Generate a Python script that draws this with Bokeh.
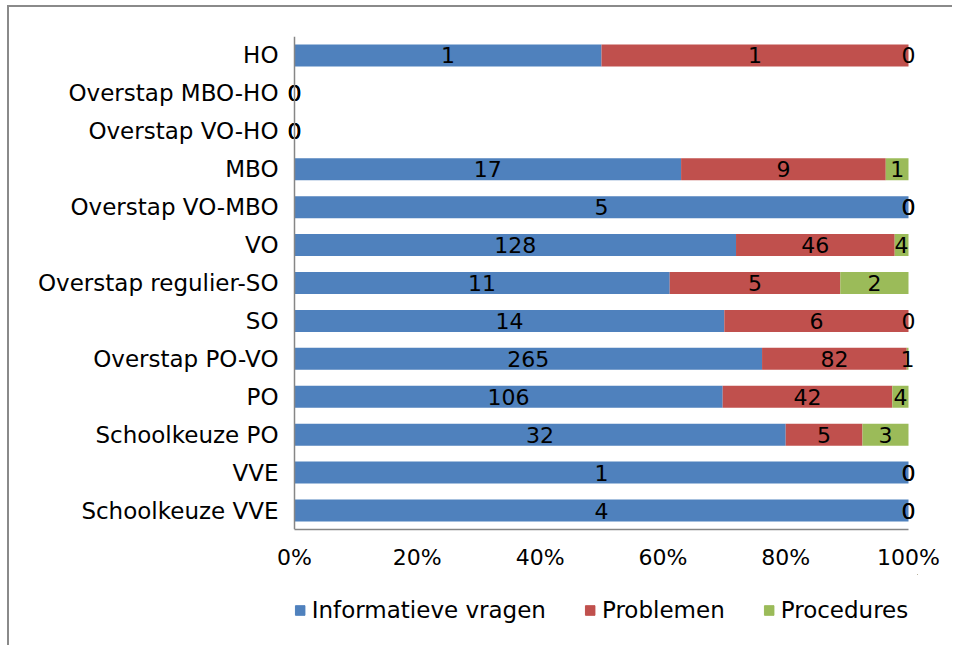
from bokeh.plotting import figure
from bokeh.layouts import column
from bokeh.models import (FactorRange, Range1d, ColumnDataSource, LabelSet, Legend,
                          LegendItem, FixedTicker, NumeralTickFormatter, Span)
from bokeh.core.properties import value
from bokeh.embed import file_html
from bokeh.resources import INLINE

# ---- data (top to bottom as in the chart) ----
categories = ["HO", "Overstap MBO-HO", "Overstap VO-HO", "MBO", "Overstap VO-MBO", "VO",
              "Overstap regulier-SO", "SO", "Overstap PO-VO", "PO", "Schoolkeuze PO",
              "VVE", "Schoolkeuze VVE"]
informatief = [1, 0, 0, 17, 5, 128, 11, 14, 265, 106, 32, 1, 4]
problemen = [1, 0, 0, 9, 0, 46, 5, 6, 82, 42, 5, 0, 0]
procedures = [0, 0, 0, 1, 0, 4, 2, 0, 1, 4, 3, 0, 0]
series_names = ["Informatieve vragen", "Problemen", "Procedures"]
series_colors = ["#4F81BD", "#C0504D", "#9BBB59"]
x_ticks = [0, 0.2, 0.4, 0.6, 0.8, 1.0]

FONT = "DejaVu Sans"
FS_NUM = "22px"
FS_TXT = "23px"

series = [informatief, problemen, procedures]
totals = [sum(v) for v in zip(*series)]
fracs = [[(c / t if t else 0.0) for c, t in zip(s, totals)] for s in series]
keys = ["s0", "s1", "s2"]
data = {"cat": categories}
for k, f in zip(keys, fracs):
    data[k] = f
src = ColumnDataSource(data)

PAD = 9 / 614  # small room so end labels are not clipped
p = figure(frame_width=632, frame_height=493, y_range=FactorRange(*reversed(categories)),
           x_range=Range1d(-PAD, 1 + PAD), output_backend="svg", toolbar_location=None,
           min_border_left=276, min_border_right=35, min_border_top=29,
           min_border_bottom=45)

rs = p.hbar_stack(keys, y="cat", height=0.58, color=series_colors, source=src,
                  line_color=None)

# labels at segment centres
lx, ly, lt = [], [], []
for i, cat in enumerate(categories):
    cum = 0.0
    for s, f in zip(series, fracs):
        lx.append(cum + f[i] / 2)
        ly.append(cat)
        lt.append(str(s[i]))
        cum += f[i]
lsrc = ColumnDataSource(dict(x=lx, y=ly, t=lt))
labels = LabelSet(x="x", y="y", text="t", source=lsrc, text_align="center",
                  text_baseline="middle", text_font=value(FONT), text_font_size=value(FS_NUM),
                  text_color="#000000")
p.add_layout(labels)

p.xgrid.visible = False
p.ygrid.visible = False
p.outline_line_color = None

for ax in (p.xaxis[0], p.yaxis[0]):
    ax.axis_line_color = "#868686"
    ax.axis_line_width = 1.5
    ax.major_tick_line_color = None
    ax.minor_tick_line_color = None
    ax.major_tick_in = 0
    ax.major_tick_out = 0
    ax.major_label_text_font = FONT
    ax.major_label_text_color = "#000000"

p.yaxis.axis_line_color = None
p.add_layout(Span(location=0, dimension="height", line_color="#868686", line_width=1.5))
p.xaxis.bounds = (0, 1)
p.xaxis.major_label_text_font_size = FS_NUM
p.yaxis.major_label_text_font_size = FS_TXT

p.xaxis.ticker = FixedTicker(ticks=x_ticks)
p.xaxis.formatter = NumeralTickFormatter(format="0%")
p.xaxis.major_label_standoff = 15
p.yaxis.major_label_standoff = 7
p.y_range.range_padding = 0
p.y_range.factor_padding = 0

# ---- legend strip below the chart (proxy bars lie outside its visible range) ----
lf = figure(width=943, height=72, output_backend="svg", toolbar_location=None,
            x_range=Range1d(0, 1), y_range=Range1d(0, 1),
            min_border_left=31, min_border_right=6, min_border_top=0, min_border_bottom=0,
            x_axis_location=None, y_axis_location=None)
lf.outline_line_color = None
lf.xgrid.visible = False
lf.ygrid.visible = False
lrs = [lf.hbar(y=[5], left=[5], right=[6], height=0.5, color=c) for c in series_colors]
legend = Legend(items=[LegendItem(label=n, renderers=[r]) for n, r in zip(series_names, lrs)],
                orientation="horizontal", location="center",
                label_text_font=FONT, label_text_font_size=FS_TXT, label_text_color="#000000",
                glyph_width=12, glyph_height=12, label_standoff=6, spacing=38,
                border_line_color=None, background_fill_alpha=0,
                margin=0, padding=6)
lf.add_layout(legend, "center")

layout = column(p, lf, spacing=0)
layout.styles = {"margin-left": "7px", "margin-top": "5px",
                 "border-left": "2px solid #8a8a8a", "border-top": "2px solid #8a8a8a"}

open("out.html", "w").write(file_html(layout, INLINE))
